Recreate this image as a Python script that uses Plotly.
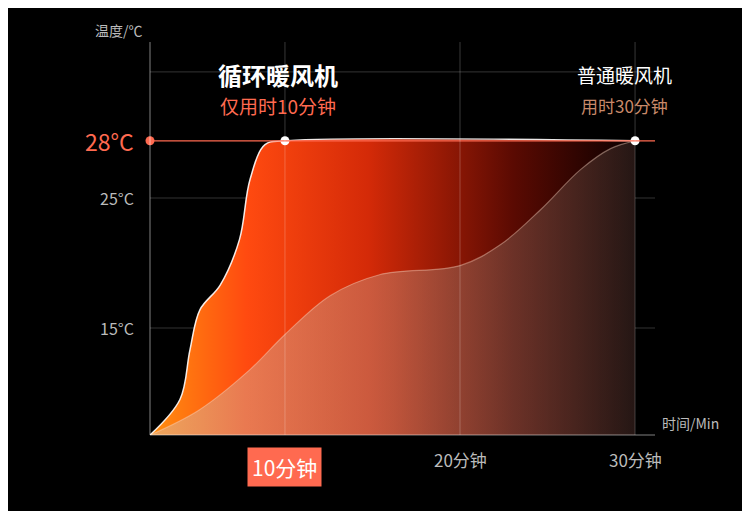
import plotly.graph_objects as go

# data (minutes, °C display units)
fast_x = [2.29, 4.0, 4.57, 5.14, 6.3, 7.4, 8.0, 8.86, 10.0, 30.0]
fast_y = [6.77, 9.5, 13.3, 16.4, 18.3, 21.8, 26.4, 29.1, 29.4, 29.4]
slow_x = [2.29, 5.1, 8.0, 10.0, 12.6, 15.4, 20.0, 22.3, 24.6, 26.9, 28.6, 30.0]
slow_y = [6.77, 8.7, 11.8, 14.5, 17.5, 19.1, 19.8, 21.4, 24.1, 27.2, 28.8, 29.4]
y_ticks = [15, 25]
y_labels = ["15°C", "25°C"]
x_ticks = [10, 20, 30]
x_labels = ["10分钟", "20分钟", "30分钟"]
top_val = 29.4

F = "Noto Sans CJK SC"
fig = go.Figure()
fig.add_trace(go.Scatter(x=fast_x, y=fast_y, mode="lines", line=dict(color="rgba(255,255,255,0.9)", width=1.5, shape="spline"),
    fill="tozeroy", fillgradient=dict(type="horizontal", colorscale=[[0, "#ff9010"], [0.2, "#ff4a10"], [0.45, "#d42a08"], [0.75, "#5a0a02"], [1, "#0a0000"]]), hoverinfo="skip"))
fig.add_trace(go.Scatter(x=slow_x, y=slow_y, mode="lines", line=dict(color="rgba(255,220,200,0.4)", width=1.2, shape="spline"),
    fill="tozeroy", fillgradient=dict(type="horizontal", colorscale=[[0, "rgba(220,190,170,0.5)"], [0.5, "rgba(190,150,130,0.42)"], [1, "rgba(70,50,45,0.45)"]]), hoverinfo="skip"))
fig.add_trace(go.Scatter(x=[10, 30], y=[top_val, top_val], mode="markers", marker=dict(color="white", size=9), hoverinfo="skip"))
fig.add_trace(go.Scatter(x=[2.29], y=[top_val], mode="markers", marker=dict(color="#ff6a50", size=9), hoverinfo="skip", cliponaxis=False))

shapes = [dict(type="line", xref="x", yref="y", x0=2.29, x1=31.14, y0=top_val, y1=top_val, line=dict(color="#ff6a50", width=1.2))]
for v in y_ticks + [34.7]:
    shapes.append(dict(type="line", xref="paper", yref="y", x0=0, x1=1, y0=v, y1=v, line=dict(color="rgba(255,255,255,0.2)", width=1), layer="below"))
for v in x_ticks:
    shapes.append(dict(type="line", xref="x", yref="paper", x0=v, x1=v, y0=0, y1=1, line=dict(color="rgba(255,255,255,0.22)", width=1), layer="above"))
shapes.append(dict(type="line", xref="paper", yref="paper", x0=0, x1=0, y0=0, y1=1, line=dict(color="rgba(255,255,255,0.5)", width=1)))
shapes.append(dict(type="line", xref="paper", yref="paper", x0=0, x1=1, y0=0, y1=0, line=dict(color="rgba(255,255,255,0.5)", width=1)))

ann = []
for v, t in zip(y_ticks, y_labels):
    ann.append(dict(x=2.29, y=v, xref="x", yref="y", text=t, showarrow=False, xanchor="right", xshift=-14, font=dict(color="#bbbbbb", size=16, family=F)))
ann.append(dict(x=2.29, y=top_val, xref="x", yref="y", text="28°C", showarrow=False, xanchor="right", xshift=-14, font=dict(color="#ff6a50", size=23, family=F)))
for v, t in zip(x_ticks[1:], x_labels[1:]):
    ann.append(dict(x=v, y=0, xref="x", yref="paper", text=t, showarrow=False, yanchor="top", yshift=-10, font=dict(color="#bbbbbb", size=17, family=F)))
ann.append(dict(x=x_ticks[0], y=0, xref="x", yref="paper", text=x_labels[0], showarrow=False, yanchor="top", yshift=-12,
                font=dict(color="white", size=21, family=F), bgcolor="#ff6a50", borderpad=4))
ann += [
    dict(x=-0.01, y=1.0, xref="paper", yref="paper", text="温度/℃", showarrow=False, xanchor="right", yanchor="bottom", font=dict(color="#bbbbbb", size=14, family=F)),
    dict(x=1.01, y=0, xref="paper", yref="paper", text="时间/Min", showarrow=False, xanchor="left", font=dict(color="#bbbbbb", size=14, family=F)),
    dict(x=9.6, y=34.5, xref="x", yref="y", text="<b>循环暖风机</b>", showarrow=False, font=dict(color="white", size=24, family=F)),
    dict(x=9.6, y=32.1, xref="x", yref="y", text="仅用时10分钟", showarrow=False, font=dict(color="#ff6a50", size=19, family=F)),
    dict(x=29.4, y=34.5, xref="x", yref="y", text="普通暖风机", showarrow=False, font=dict(color="white", size=19, family=F)),
    dict(x=29.4, y=32.1, xref="x", yref="y", text="用时30分钟", showarrow=False, font=dict(color="#c98a6a", size=17, family=F)),
]

fig.update_layout(width=734, height=503, paper_bgcolor="black", plot_bgcolor="black", showlegend=False,
    margin=dict(l=142, r=87, t=34, b=76), shapes=shapes, annotations=ann,
    xaxis=dict(range=[2.29, 31.14], showgrid=False, zeroline=False, showticklabels=False),
    yaxis=dict(range=[6.77, 37], showgrid=False, zeroline=False, showticklabels=False))
fig.write_html("out.html")
